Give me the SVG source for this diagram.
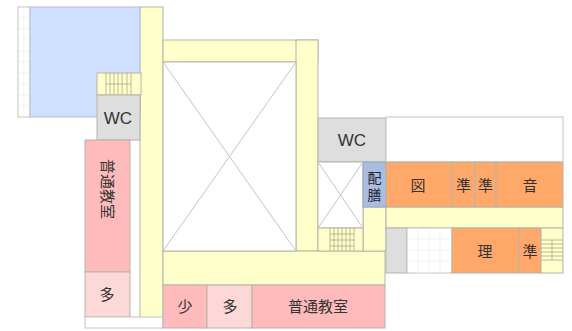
<svg xmlns="http://www.w3.org/2000/svg" width="572" height="331" viewBox="0 0 572 331">
<style>
.r{stroke:#b5b5a8;stroke-width:1}
.y{fill:#ffffcc}.p{fill:#ffbbbb}.q{fill:#fdd8d8}.o{fill:#ffa869}.g{fill:#dedede}.w{fill:#fff}
.x{stroke:#c4c4c4;stroke-width:1;fill:none}
.s{stroke:#a8a888;stroke-width:.8;fill:none}
.f{stroke:#ececec;stroke-width:.7;fill:none}
text{font-family:"Noto Sans CJK JP","Liberation Sans",sans-serif;fill:#333;font-size:15px;text-anchor:middle}
.l{font-family:"Liberation Sans",sans-serif;font-size:17px}
</style>
<rect width="572" height="331" fill="#fff"/>
<g id="corridors">
<rect class="r y" x="140" y="7" width="23" height="311"/>
<rect class="r y" x="163" y="40" width="155" height="22"/>
<rect class="r y" x="296" y="40" width="22" height="211"/>
<rect class="r y" x="163" y="251" width="222" height="34"/>
<rect class="r y" x="363" y="207" width="23" height="44"/>
<rect class="r y" x="386" y="207" width="177" height="21"/>
</g>
<g id="pool">
<rect x="18" y="7" width="12" height="110" fill="#fff" stroke="#c4c4c4"/>
<path class="f" d="M18 18H30M18 29H30M18 40H30M18 51H30M18 62H30M18 73H30M18 84H30M18 95H30M18 106H30M24 7V117"/>
<rect x="30" y="7" width="110" height="110" fill="#cfdfff" stroke="#b8c0cc"/>
</g>
<g id="stair-left">
<rect class="r y" x="97" y="73" width="44" height="22"/>
<path class="s" d="M106 73V95M110 73V95M114 73V95M118 73V95M122 73V95M127 73V95M131 73V95M106 84H131"/>
</g>
<g id="wc-left"><rect class="r g" x="97" y="95" width="43" height="45"/><text class="l" x="118" y="124">WC</text></g>
<g id="room-left"><rect class="r p" x="85" y="140" width="45" height="132"/><text x="107" y="194" transform="rotate(90 107 189)">普通教室</text></g>
<g id="tayo-left"><rect class="r q" x="85" y="272" width="45" height="45"/><text x="107" y="300">多</text></g>
<g id="strip-left"><rect x="85" y="317" width="78" height="11" fill="#fff" stroke="#c4c4c4"/></g>
<g id="void-main"><rect x="163" y="62" width="133" height="189" fill="#fff" stroke="#b5b5a8"/></g>
<g id="room-sho"><rect class="r p" x="163" y="285" width="44" height="43"/><text x="185" y="312">少</text></g>
<g id="room-ta"><rect class="r q" x="207" y="285" width="45" height="43"/><text x="230" y="312">多</text></g>
<g id="room-futsu"><rect class="r p" x="252" y="285" width="133" height="43"/><text x="318" y="312">普通教室</text></g>
<g id="wc-right"><rect class="r g" x="318" y="118" width="68" height="44"/><text class="l" x="352" y="146">WC</text></g>
<g id="void-small"><rect x="318" y="162" width="45" height="66" fill="#fff" stroke="#b5b5a8"/></g>
<g id="stair-right">
<rect class="r y" x="318" y="228" width="45" height="23"/>
<path class="s" d="M330 228V251M334 228V251M338 228V251M342 228V251M346 228V251M350 228V251M354 228V251M330 234H354M330 240H354M330 246H354"/>
</g>
<g id="haizen"><rect x="363" y="162" width="23" height="45" fill="#a9bde0" stroke="#9aa8c0"/><text x="374.500" y="183" style="font-size:14px;fill:#223">配</text><text x="374.500" y="200" style="font-size:14px;fill:#223">膳</text></g>
<g id="upper-empty"><rect x="386" y="117" width="177" height="45" fill="#fff" stroke="#c4c4c4"/></g>
<g id="room-zu"><rect class="r o" x="386" y="162" width="66" height="45"/><text x="418" y="191">図</text></g>
<g id="room-jun1"><rect class="r o" x="452" y="162" width="23" height="45"/><text x="463.500" y="191">準</text></g>
<g id="room-jun2"><rect class="r o" x="475" y="162" width="21" height="45"/><text x="485.500" y="191">準</text></g>
<g id="room-on"><rect class="r o" x="496" y="162" width="67" height="45"/><text x="530" y="191">音</text></g>
<g id="room-gray"><rect class="r g" x="386" y="228" width="21" height="45"/></g>
<g id="room-grid"><rect x="407" y="228" width="45" height="45" fill="#fff" stroke="#c4c4c4"/>
<path class="f" d="M407 239H452M407 250H452M407 261H452M418 228V273M429 228V273M440 228V273"/></g>
<g id="room-ri"><rect class="r o" x="452" y="228" width="67" height="45"/><text x="485" y="257">理</text></g>
<g id="room-jun3"><rect class="r o" x="519" y="228" width="22" height="45"/><text x="530" y="257">準</text></g>
<g id="stair-far">
<rect class="r y" x="541" y="228" width="22" height="45"/>
<path class="s" d="M541 240H563M541 244H563M541 248H563M541 252H563M541 256H563M541 260H563M552 240V260"/>
</g>
<g id="connectors">
<path class="x" d="M163 62L296 251M296 62L163 251M318 162L363 228M363 162L318 228"/>
</g>
</svg>
